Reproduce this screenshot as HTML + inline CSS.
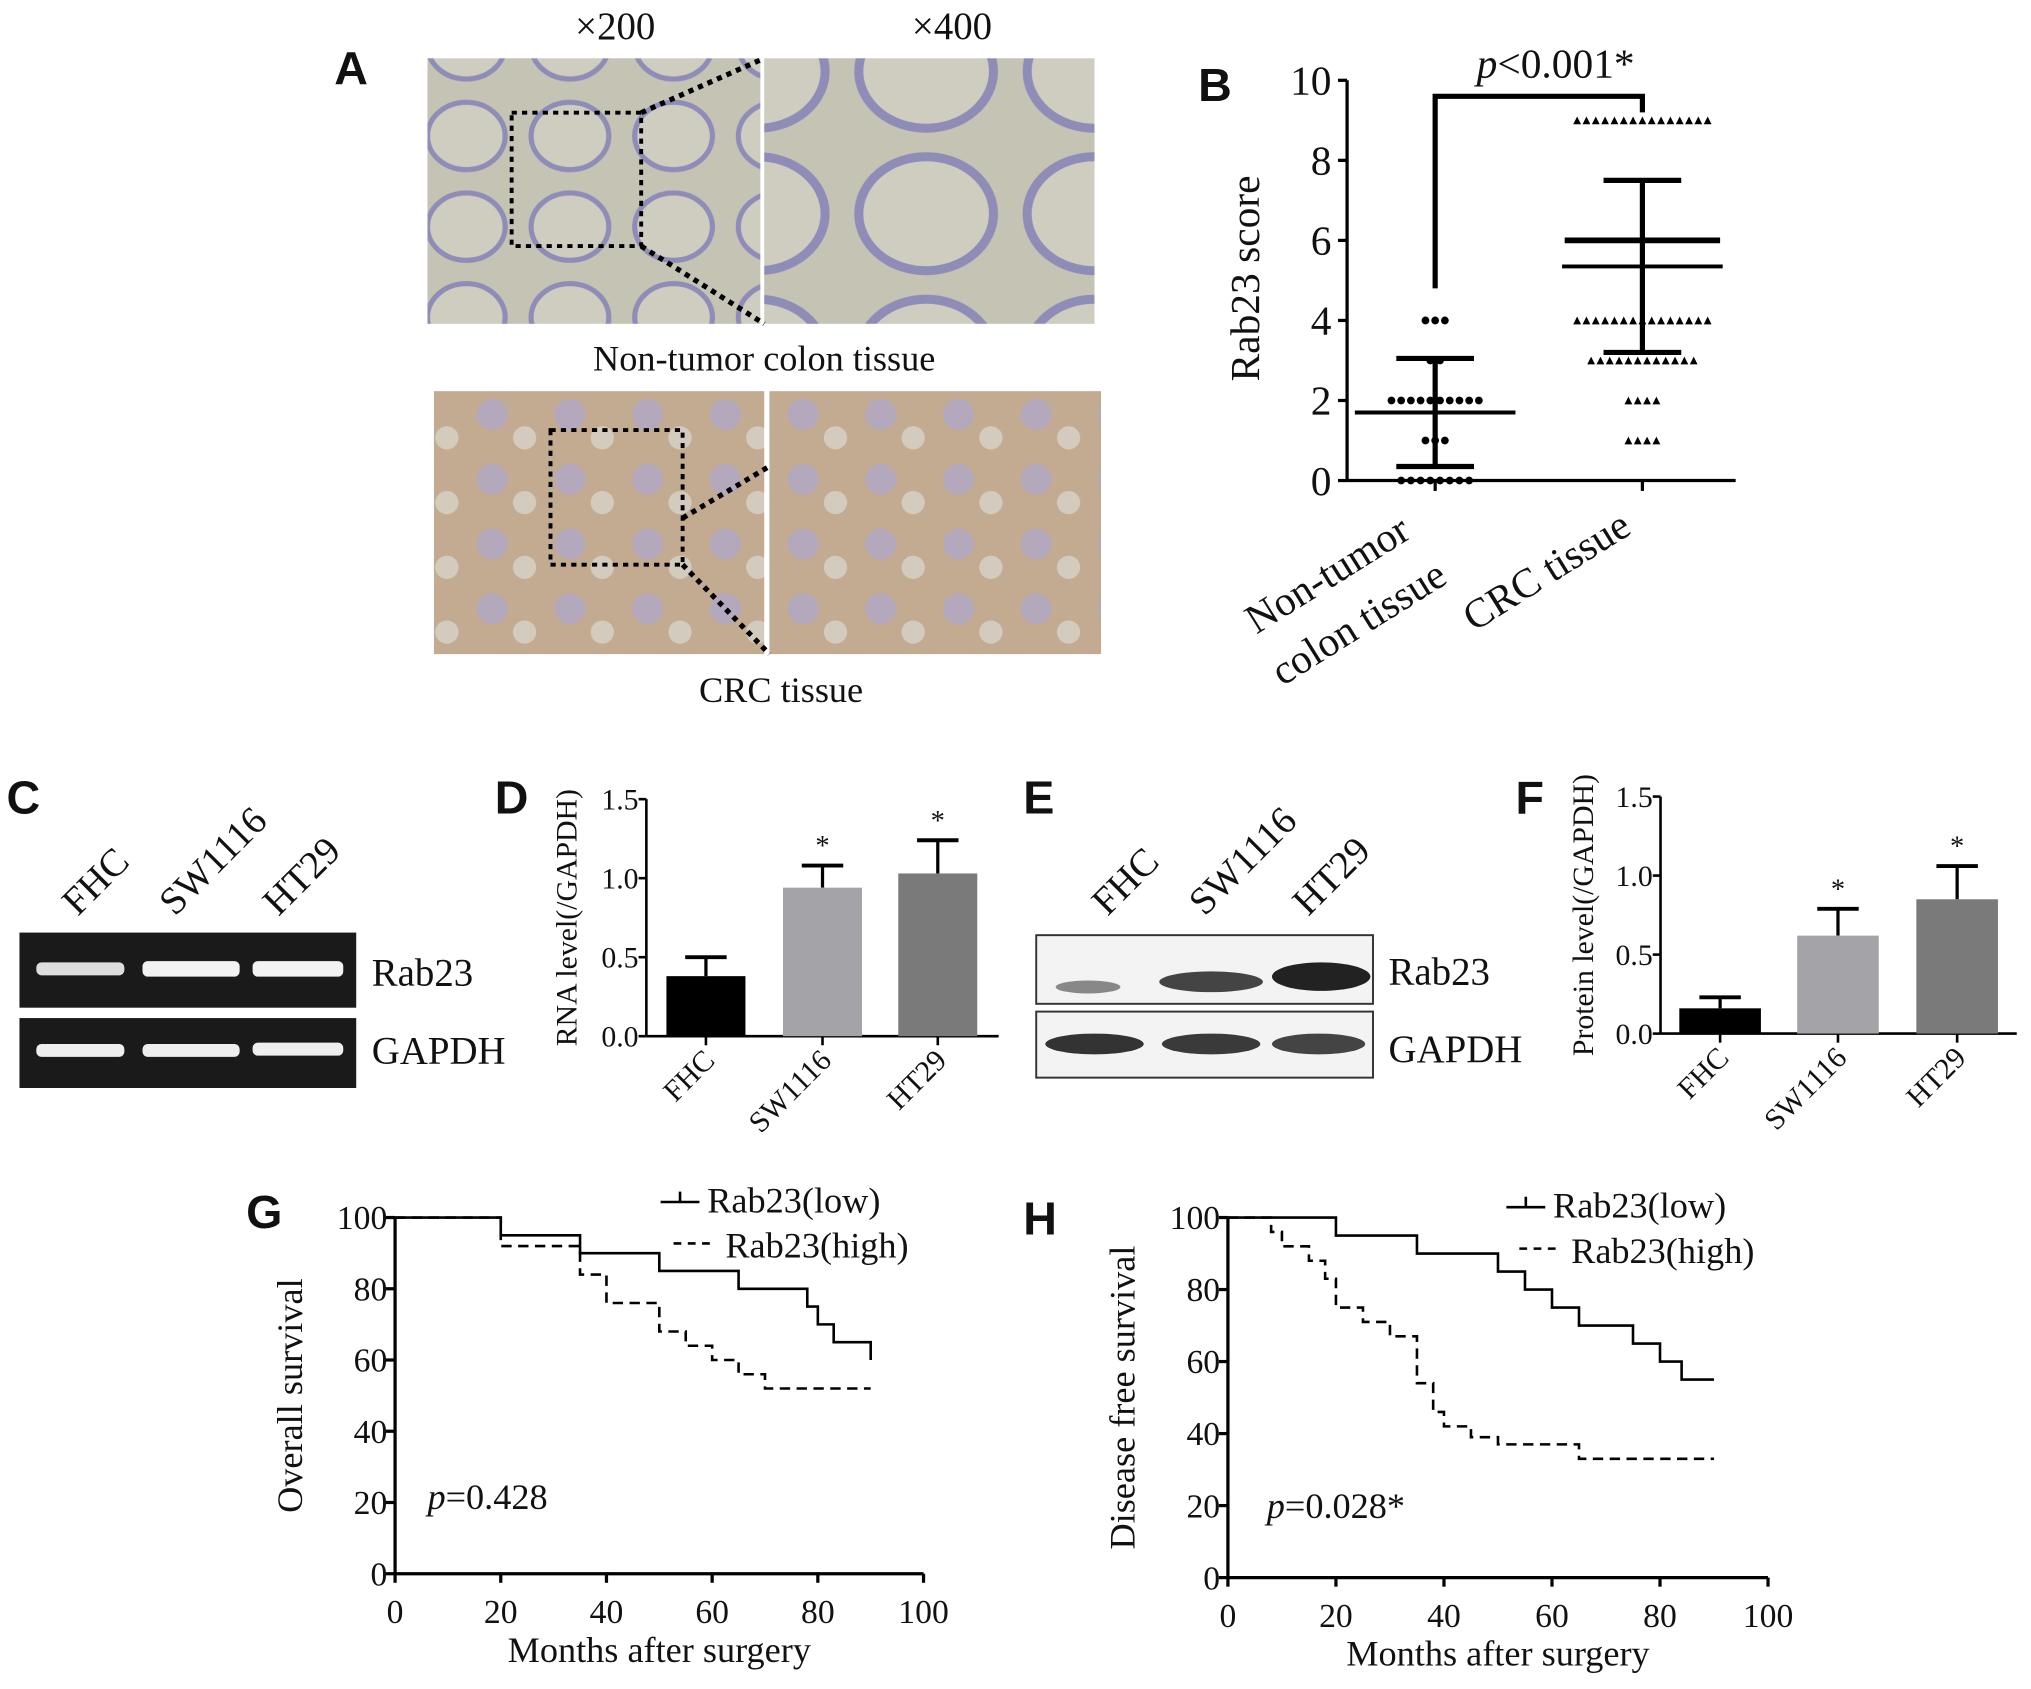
<!DOCTYPE html>
<html><head><meta charset="utf-8"><style>
html,body{margin:0;padding:0;background:#fff}
svg{display:block}
text{font-family:"Liberation Serif",serif;fill:#111}
.lbl{font-family:"Liberation Sans",sans-serif;font-weight:bold;font-size:36px}
</style></head><body>
<svg id="fig" width="2031" height="1689" viewBox="0 0 1568 1304" xmlns="http://www.w3.org/2000/svg">
<defs>
<pattern id="crypt" width="80" height="70" patternUnits="userSpaceOnUse">
<rect width="80" height="70" fill="#c4c3b4"/>
<ellipse cx="40" cy="35" rx="30" ry="26" fill="#cecdc0" stroke="#8f8db8" stroke-width="4"/>
</pattern>
<pattern id="crypt2" width="130" height="110" patternUnits="userSpaceOnUse">
<rect width="130" height="110" fill="#c4c3b4"/>
<ellipse cx="65" cy="55" rx="52" ry="44" fill="#cecdc0" stroke="#8f8db8" stroke-width="7"/>
</pattern>
<pattern id="tumor" width="60" height="50" patternUnits="userSpaceOnUse">
<rect width="60" height="50" fill="#c2ab90"/>
<circle cx="20" cy="20" r="12" fill="#b4a8bc"/><circle cx="45" cy="38" r="9" fill="#d3cbbd"/>
</pattern>
</defs>
<g>
<text class="lbl" x="258" y="65">A</text>
<text x="475" y="30" font-size="30" text-anchor="middle">×200</text>
<text x="735" y="30" font-size="30" text-anchor="middle">×400</text>
<rect x="330" y="45" width="257" height="205" fill="url(#crypt)"/>
<rect x="590" y="45" width="255" height="205" fill="url(#crypt2)"/>
<rect x="395" y="87" width="100" height="103" fill="none" stroke="#000" stroke-width="3" stroke-dasharray="4 4"/>
<path d="M495 87 L590 45 M495 190 L590 250" stroke="#000" stroke-width="4" stroke-dasharray="4 4"/>
<text x="590" y="286" font-size="28" text-anchor="middle">Non-tumor colon tissue</text>
<rect x="335" y="302" width="255" height="203" fill="url(#tumor)"/>
<rect x="594" y="302" width="256" height="203" fill="url(#tumor)"/>
<rect x="425" y="332" width="102" height="104" fill="none" stroke="#000" stroke-width="3" stroke-dasharray="4 4"/>
<path d="M527 400 L594 360 M527 436 L594 505" stroke="#000" stroke-width="4" stroke-dasharray="4 4"/>
<text x="603" y="542" font-size="28" text-anchor="middle">CRC tissue</text>
</g>
<text class="lbl" x="925" y="78">B</text>
<text class="lbl" x="5" y="628">C</text>
<text class="lbl" x="382" y="628">D</text>
<text class="lbl" x="790" y="628">E</text>
<text class="lbl" x="1170" y="628">F</text>
<text class="lbl" x="190" y="948">G</text>
<text class="lbl" x="790" y="953">H</text>
<g>
<rect x="15" y="720" width="260" height="58" fill="#1a1a1a"/>
<rect x="15" y="786" width="260" height="54" fill="#1a1a1a"/>
<rect x="28" y="743" width="68" height="10" rx="4" fill="#ddd"/>
<rect x="110" y="742" width="75" height="12" rx="4" fill="#f2f2f2"/>
<rect x="195" y="742" width="70" height="12" rx="4" fill="#f2f2f2"/>
<rect x="28" y="806" width="68" height="10" rx="4" fill="#eee"/>
<rect x="110" y="806" width="75" height="10" rx="4" fill="#eee"/>
<rect x="195" y="805" width="70" height="10" rx="4" fill="#eee"/>
<text font-size="30" transform="translate(60,708) rotate(-45)">FHC</text>
<text font-size="30" transform="translate(135,708) rotate(-45)">SW1116</text>
<text font-size="30" transform="translate(215,708) rotate(-45)">HT29</text>
<text x="287" y="761" font-size="30">Rab23</text>
<text x="287" y="821" font-size="30">GAPDH</text>
</g>
<g>
<rect x="800" y="722" width="260" height="53" fill="#f3f3f3" stroke="#333" stroke-width="1.5"/>
<rect x="800" y="781" width="260" height="51" fill="#f3f3f3" stroke="#333" stroke-width="1.5"/>
<ellipse cx="840" cy="762" rx="25" ry="5" fill="#888"/>
<ellipse cx="935" cy="758" rx="40" ry="8" fill="#444"/>
<ellipse cx="1020" cy="754" rx="38" ry="11" fill="#222"/>
<ellipse cx="845" cy="806" rx="38" ry="8" fill="#333"/>
<ellipse cx="935" cy="806" rx="38" ry="8" fill="#3a3a3a"/>
<ellipse cx="1018" cy="806" rx="36" ry="8" fill="#444"/>
<text font-size="30" transform="translate(855,708) rotate(-45)">FHC</text>
<text font-size="30" transform="translate(930,708) rotate(-45)">SW1116</text>
<text font-size="30" transform="translate(1010,708) rotate(-45)">HT29</text>
<text x="1072" y="760" font-size="30">Rab23</text>
<text x="1072" y="820" font-size="30">GAPDH</text>
</g>
<g id="charts"></g>
</svg>
<script>
// Panel B data
const bGroups = ["Non-tumor colon tissue", "CRC tissue"];
const bNonTumorScores = [4,4,4,3,3,2,2,2,2,2,2,2,2,2,2,1,1,1,0,0,0,0,0,0,0,0];
const bCrcScores = [9,9,9,9,9,9,9,9,9,9,9,9,9,9,9,4,4,4,4,4,4,4,4,4,4,4,4,4,4,4,3,3,3,3,3,3,3,3,3,3,3,3,2,2,2,2,1,1,1,1];
const bMeans = [1.7, 5.35];
const bSdLow = [0.35, 3.2];
const bSdHigh = [3.05, 7.5];
const bMedians = [null, 6];
const bTicks = [0,2,4,6,8,10];
// Panel D data
const dCats = ["FHC","SW1116","HT29"];
const dValues = [0.38, 0.94, 1.03];
const dErr = [0.12, 0.14, 0.21];
const dTicks = [0.0,0.5,1.0,1.5];
// Panel F data
const fCats = ["FHC","SW1116","HT29"];
const fValues = [0.16, 0.62, 0.85];
const fErr = [0.07, 0.17, 0.21];
const fTicks = [0.0,0.5,1.0,1.5];
// Panel G data
const gLowT = [0,20,35,50,65,78,80,83,90];
const gLowS = [100,95,90,85,80,75,70,65,60];
const gHighT = [0,20,35,40,50,55,60,65,70,90];
const gHighS = [100,92,84,76,68,64,60,56,52,52];
const gTicksX = [0,20,40,60,80,100];
const gTicksY = [0,20,40,60,80,100];
// Panel H data
const hLowT = [0,20,35,50,55,60,65,75,80,84,90];
const hLowS = [100,95,90,85,80,75,70,65,60,55,55];
const hHighT = [0,8,10,15,18,20,25,30,35,38,40,45,50,65,90];
const hHighS = [100,96,92,88,83,75,71,67,54,46,42,39,37,33,33];

const NS="http://www.w3.org/2000/svg";
const root=document.getElementById('charts');
function mk(tag,attrs,parent){const e=document.createElementNS(NS,tag);for(const k in attrs)e.setAttribute(k,attrs[k]);(parent||root).appendChild(e);return e;}
function lin(d0,d1,r0,r1){return v=>r0+(v-d0)*(r1-r0)/(d1-d0);}
let el;

// ---------- Panel B ----------
const byB=lin(0,10,371,62);
const bx=[1108,1268];
el=mk('line',{x1:1040,y1:byB(0),x2:1040,y2:byB(10),stroke:'#000','stroke-width':2.5});


el=mk('line',{x1:1040,y1:byB(0),x2:1340,y2:byB(0),stroke:'#000','stroke-width':2.5});


bTicks.forEach(t=>{
  el=mk('line',{x1:1033,y1:byB(t),x2:1040,y2:byB(t),stroke:'#000','stroke-width':2.5});
  
  
  el=mk('text',{x:1028,y:byB(t)+11,'font-size':32,'text-anchor':'end'});el.textContent=t;
  
  
});
bx.forEach(x=>{el=mk('line',{x1:x,y1:byB(0),x2:x,y2:byB(0)+8,stroke:'#000','stroke-width':2.5});
  
  });
el=mk('text',{'font-size':32,'text-anchor':'middle',transform:'translate(972,215) rotate(-90)'});el.textContent='Rab23 score';


function scatter(vals,cx,tri,sp){
  const counts={};vals.forEach(v=>counts[v]=(counts[v]||0)+1);
  const idx={};
  vals.forEach(v=>{idx[v]=(idx[v]||0);const n=counts[v];const x=cx+(idx[v]-(n-1)/2)*sp;idx[v]++;const y=byB(v);
    if(tri){el=mk('path',{d:`M${x-3} ${y+3} L${x+3} ${y+3} L${x} ${y-3} Z`,fill:'#000'});}
    else{el=mk('circle',{cx:x,cy:y,r:3,fill:'#000'});}
    
  });
}
scatter(bNonTumorScores,bx[0],false,7.5);
scatter(bCrcScores,bx[1],true,7.2);
[0,1].forEach(i=>{
  const x=bx[i];
  el=mk('line',{x1:x,y1:byB(bSdLow[i]),x2:x,y2:byB(bSdHigh[i]),stroke:'#000','stroke-width':4});
  
  
  [bSdLow[i],bSdHigh[i]].forEach(v=>{el=mk('line',{x1:x-30,y1:byB(v),x2:x+30,y2:byB(v),stroke:'#000','stroke-width':4});
    
    });
  el=mk('line',{x1:x-62,y1:byB(bMeans[i]),x2:x+62,y2:byB(bMeans[i]),stroke:'#000','stroke-width':3});
  
  
  if(bMedians[i]!==null){el=mk('line',{x1:x-60,y1:byB(bMedians[i]),x2:x+60,y2:byB(bMedians[i]),stroke:'#000','stroke-width':4.5});
    
    }
});
el=mk('path',{d:`M${bx[0]} ${byB(4.8)} V${byB(9.6)} H${bx[1]} V${byB(9.2)}`,fill:'none',stroke:'#000','stroke-width':4});


el=mk('text',{x:1140,y:60,'font-size':32});el.innerHTML='<tspan font-style="italic">p</tspan>&lt;0.001*';


el=mk('text',{'font-size':32,transform:'translate(970,490) rotate(-32)'});el.textContent='Non-tumor';


el=mk('text',{'font-size':32,transform:'translate(990,530) rotate(-32)'});el.textContent='colon tissue';


el=mk('text',{'font-size':32,transform:'translate(1138,488) rotate(-32)'});el.textContent='CRC tissue';



// ---------- Bar panels D, F ----------
function barChart(pfx,ax,x1,y0,yTop,cats,vals,errs,ticks,cx,bw,title,tx){
  const y=lin(0,1.5,y0,yTop);
  const cols=['#000','#a3a3a8','#7a7a7a'];
  el=mk('line',{x1:ax,y1:y0,x2:ax,y2:yTop,stroke:'#000','stroke-width':2});
  
  
  el=mk('line',{x1:ax,y1:y0,x2:x1,y2:y0,stroke:'#000','stroke-width':2});
  
  
  ticks.forEach(t=>{
    el=mk('line',{x1:ax-6,y1:y(t),x2:ax,y2:y(t),stroke:'#000','stroke-width':2});
    
    
    el=mk('text',{x:ax-6,y:y(t)+8,'font-size':23,'text-anchor':'end'});el.textContent=t.toFixed(1);
    
    
  });
  cats.forEach((c,i)=>{
    const x=cx[i];
    el=mk('line',{x1:x,y1:y0,x2:x,y2:y0+7,stroke:'#000','stroke-width':2});
    
    
    el=mk('line',{x1:x,y1:y(vals[i]),x2:x,y2:y(vals[i]+errs[i]),stroke:'#000','stroke-width':2.5});
    
    
    el=mk('line',{x1:x-16,y1:y(vals[i]+errs[i]),x2:x+16,y2:y(vals[i]+errs[i]),stroke:'#000','stroke-width':3});
    
    
    el=mk('rect',{x:x-bw/2,y:y(vals[i]),width:bw,height:y0-y(vals[i]),fill:cols[i]});
    
    
    if(i>0){el=mk('text',{x:x,y:y(vals[i]+errs[i])-8,'font-size':22,'text-anchor':'middle',fill:'#444'});el.textContent='*';
      
      }
    el=mk('text',{'font-size':23,'text-anchor':'end',transform:`translate(${x+8},${y0+20}) rotate(-45)`});el.textContent=c;
    
    
  });
  el=mk('text',{'font-size':23,'text-anchor':'middle',transform:`translate(${tx},${(y0+yTop)/2}) rotate(-90)`});el.textContent=title;
  
  
}
barChart('d',499,771,800,617,dCats,dValues,dErr,dTicks,[545,635,724],61,'RNA level(/GAPDH)',445);
barChart('f',1282,1557,798,615,fCats,fValues,fErr,fTicks,[1328,1419,1511],63,'Protein level(/GAPDH)',1230);

// ---------- Survival panels G, H ----------
function km(pfx,x0,x100,y0,y100,lowT,lowS,highT,highS,title,ptext,px,py,legX,legY){
  const sx=lin(0,100,x0,x100), sy=lin(0,100,y0,y100);
  el=mk('line',{x1:x0,y1:y0,x2:x0,y2:y100,stroke:'#000','stroke-width':2.5});
  
  
  el=mk('line',{x1:x0,y1:y0,x2:x100,y2:y0,stroke:'#000','stroke-width':2.5});
  
  
  gTicksY.forEach(t=>{
    el=mk('line',{x1:x0-7,y1:sy(t),x2:x0,y2:sy(t),stroke:'#000','stroke-width':2.5});
    
    
    el=mk('text',{x:x0-6,y:sy(t)+9,'font-size':26,'text-anchor':'end'});el.textContent=t;
    
    
  });
  gTicksX.forEach(t=>{
    el=mk('line',{x1:sx(t),y1:y0,x2:sx(t),y2:y0+7,stroke:'#000','stroke-width':2.5});
    
    
    el=mk('text',{x:sx(t),y:y0+38,'font-size':26,'text-anchor':'middle'});el.textContent=t;
    
    
  });
  function path(T,S){let d=`M${sx(T[0])} ${sy(S[0])}`;for(let i=1;i<T.length;i++){d+=` H${sx(T[i])} V${sy(S[i])}`;}return d;}
  el=mk('path',{d:path(lowT,lowS),fill:'none',stroke:'#000','stroke-width':2});
  
  
  el=mk('path',{d:path(highT,highS),fill:'none',stroke:'#000','stroke-width':2,'stroke-dasharray':'8 5'});
  
  
  el=mk('text',{'font-size':28,'text-anchor':'middle',transform:`translate(${x0-72},${(y0+y100)/2}) rotate(-90)`});el.textContent=title;
  
  
  el=mk('text',{x:(x0+x100)/2,y:y0+68,'font-size':28,'text-anchor':'middle'});el.textContent='Months after surgery';
  
  
  el=mk('text',{x:px,y:py,'font-size':28});el.innerHTML='<tspan font-style="italic">p</tspan>='+ptext;
  
  
  el=mk('path',{d:`M${legX} ${legY} H${legX+30} M${legX+15} ${legY-8} V${legY}`,stroke:'#000','stroke-width':2,fill:'none'});
  
  
  el=mk('text',{x:legX+36,y:legY+8,'font-size':28});el.textContent='Rab23(low)';
  
  
  el=mk('path',{d:`M${legX+10} ${legY+32} H${legX+40}`,stroke:'#000','stroke-width':2,'stroke-dasharray':'6 5',fill:'none'});
  
  
  el=mk('text',{x:legX+50,y:legY+43,'font-size':28});el.textContent='Rab23(high)';
  
  
}
km('g',305,713,1215,940,gLowT,gLowS,gHighT,gHighS,'Overall survival','0.428',330,1165,510,928);
km('h',948,1365,1218,940,hLowT,hLowS,hHighT,hHighS,'Disease free survival','0.028*',978,1172,1163,932);
</script>
</body></html>
